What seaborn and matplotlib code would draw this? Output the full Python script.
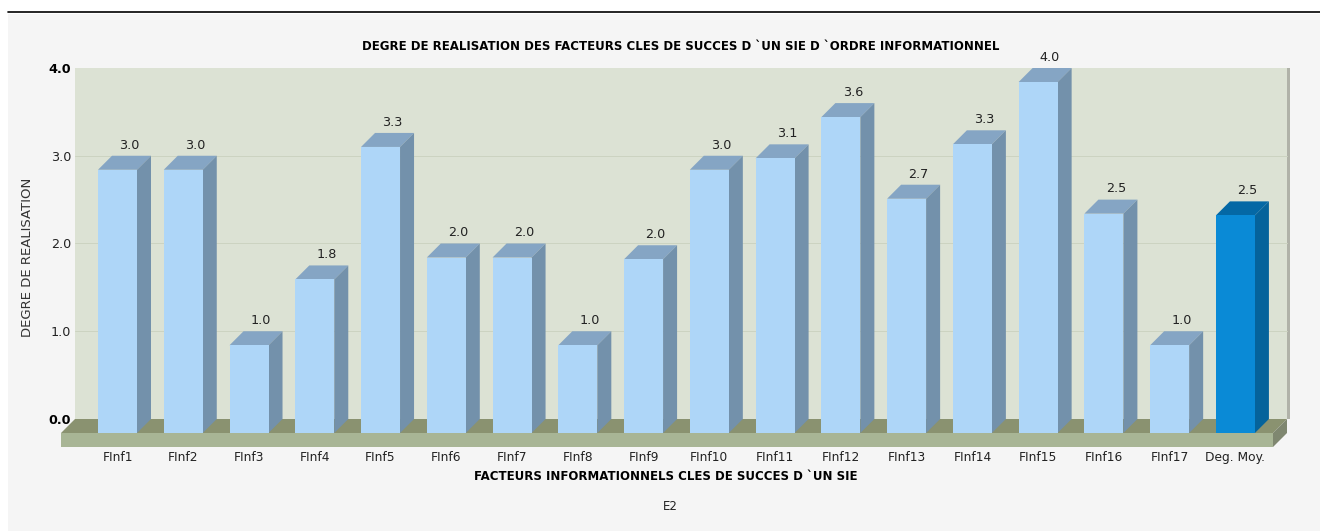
import matplotlib
matplotlib.use("Agg")
import matplotlib.pyplot as plt
import matplotlib.transforms as mtrans
from matplotlib.patches import Polygon, Rectangle
import pandas as pd
import seaborn as sns

# Data
categories = ["FInf1", "FInf2", "FInf3", "FInf4", "FInf5", "FInf6", "FInf7", "FInf8", "FInf9",
              "FInf10", "FInf11", "FInf12", "FInf13", "FInf14", "FInf15", "FInf16", "FInf17", "Deg. Moy."]
values = [3.0, 3.0, 1.0, 1.75, 3.26, 2.0, 2.0, 1.0, 1.98,
          3.0, 3.13, 3.6, 2.67, 3.29, 4.0, 2.5, 1.0, 2.48]
y_ticks = [0, 1, 2, 3, 4]

# Colours (front, top, side)
LIGHT = ("#aed6f8", "#85a5c4", "#7391ab")
DARK = ("#0a8ad6", "#0468a5", "#05639b")
TEXT = "#222222"

W, H = 1320, 531
DEPTH_PX = 14
SLOT_PX = 65.76
UNIT_PX = 87.75

sns.set_theme(style="white")
plt.rcParams["font.family"] = ["DejaVu Sans"]

fig = plt.figure(figsize=(W / 100, H / 100), dpi=100, facecolor="white")
fig.add_artist(Rectangle((8 / W, 0), 1 - 8 / W, 1 - 14 / H, transform=fig.transFigure,
                         facecolor="#f5f5f5", edgecolor="none", zorder=-5))
fig.add_artist(plt.Line2D([8 / W, 1], [1 - 11.5 / H] * 2, transform=fig.transFigure,
                          color="black", lw=1.2))

# axes = front plane of the 3D box
ax = fig.add_axes([61 / W, (H - 433) / H, 1212 / W, (433 - 82) / H])
ax.patch.set_alpha(0)

df = pd.DataFrame({"facteur": categories, "degre": values})
palette = {c: LIGHT[0] for c in categories}
palette["Deg. Moy."] = DARK[0]
sns.barplot(data=df, x="facteur", y="degre", hue="facteur", palette=palette, order=categories,
            hue_order=categories, width=0.593, saturation=1, dodge=False, legend=False, ax=ax, zorder=4,
            linewidth=0, edgecolor="none")

x0 = (61 - 117.5) / SLOT_PX
x1 = (1273 - 117.5) / SLOT_PX
ax.set_xlim(x0, x1)
ax.set_ylim(0, 4)
dx = DEPTH_PX / SLOT_PX
dy = DEPTH_PX / UNIT_PX

bars = [c[0] for c in ax.containers]

# back wall, its edge and the grid
ax.add_patch(Polygon([(x0 + dx, dy), (x1 + dx, dy), (x1 + dx, 4 + dy), (x0 + dx, 4 + dy)],
                     facecolor="#dce2d4", edgecolor="none", zorder=1, clip_on=False))
edge = 3 / SLOT_PX
ax.add_patch(Polygon([(x1 + dx, dy), (x1 + dx + edge, dy), (x1 + dx + edge, 4 + dy), (x1 + dx, 4 + dy)],
                     facecolor="#b0b2a8", edgecolor="none", zorder=1, clip_on=False))
for v in y_ticks[1:-1]:
    ax.plot([x0 + dx, x1 + dx], [v + dy, v + dy], color="#ccd3c1", lw=0.7, zorder=1.5, clip_on=False)

# floor
floor_h = 14 / UNIT_PX
ax.add_patch(Polygon([(x0, 0), (x0 + dx, dy), (x1 + dx, dy), (x1, 0)],
                     facecolor="#8a9270", edgecolor="none", zorder=2, clip_on=False))
ax.add_patch(Polygon([(x0, 0), (x1, 0), (x1, -floor_h), (x0, -floor_h)],
                     facecolor="#a8b595", edgecolor="none", zorder=2, clip_on=False))
ax.add_patch(Polygon([(x1, 0), (x1 + dx, dy), (x1 + dx, dy - floor_h), (x1, -floor_h)],
                     facecolor="#7f8770", edgecolor="none", zorder=2, clip_on=False))

# top and side faces follow each seaborn bar, plus value labels
for bar, name, val in zip(bars, categories, values):
    _, top, side = DARK if name == "Deg. Moy." else LIGHT
    left = bar.get_x()
    right = left + bar.get_width()
    h = bar.get_height()
    ax.add_patch(Polygon([(left, h), (left + dx, h + dy), (right + dx, h + dy), (right, h)],
                         facecolor=top, edgecolor="none", zorder=3, clip_on=False))
    ax.add_patch(Polygon([(right, 0), (right + dx, dy), (right + dx, h + dy), (right, h)],
                         facecolor=side, edgecolor="none", zorder=3, clip_on=False))
    ax.annotate(f"{val:.1f}", ((left + right) / 2 + dx, h + dy), xytext=(-1.5, 3), textcoords="offset points",
                ha="center", va="bottom", fontsize=9.2, color=TEXT, annotation_clip=False, zorder=5)

sns.despine(ax=ax, left=True, bottom=True)
ax.set_yticks(y_ticks)
ax.set_yticklabels([f"{v:.1f}" for v in y_ticks])
ax.tick_params(axis="both", length=0, pad=0)
ax.tick_params(axis="y", labelsize=9.2, labelcolor=TEXT)
ax.tick_params(axis="x", labelsize=8.8, labelcolor=TEXT, pad=13)
shift = mtrans.ScaledTranslation(10 / 100, DEPTH_PX / 100, fig.dpi_scale_trans)
for lab, v in zip(ax.get_yticklabels(), y_ticks):
    lab.set_transform(lab.get_transform() + shift)
    if v in (0, 4):
        lab.set_fontweight("bold")
        lab.set_color("black")

ax.set_xlabel("")
ax.set_ylabel("")
fig.text(28 / W, 1 - 257 / H, "DEGRE DE REALISATION", rotation=90, ha="center", va="center",
         fontsize=9.5, color="#333333")
fig.text(681 / W, 1 - 46 / H, "DEGRE DE REALISATION DES FACTEURS CLES DE SUCCES D `UN SIE D `ORDRE INFORMATIONNEL",
         ha="center", va="center", fontsize=8.5, fontweight="bold", color="black")
fig.text(666 / W, 1 - 477 / H, "FACTEURS INFORMATIONNELS CLES DE SUCCES D `UN SIE",
         ha="center", va="center", fontsize=8.5, fontweight="bold", color="black")
fig.text(670 / W, 1 - 507 / H, "E2", ha="center", va="center", fontsize=8.5, color=TEXT)

fig.savefig("out.png", dpi=100, facecolor=fig.get_facecolor())
